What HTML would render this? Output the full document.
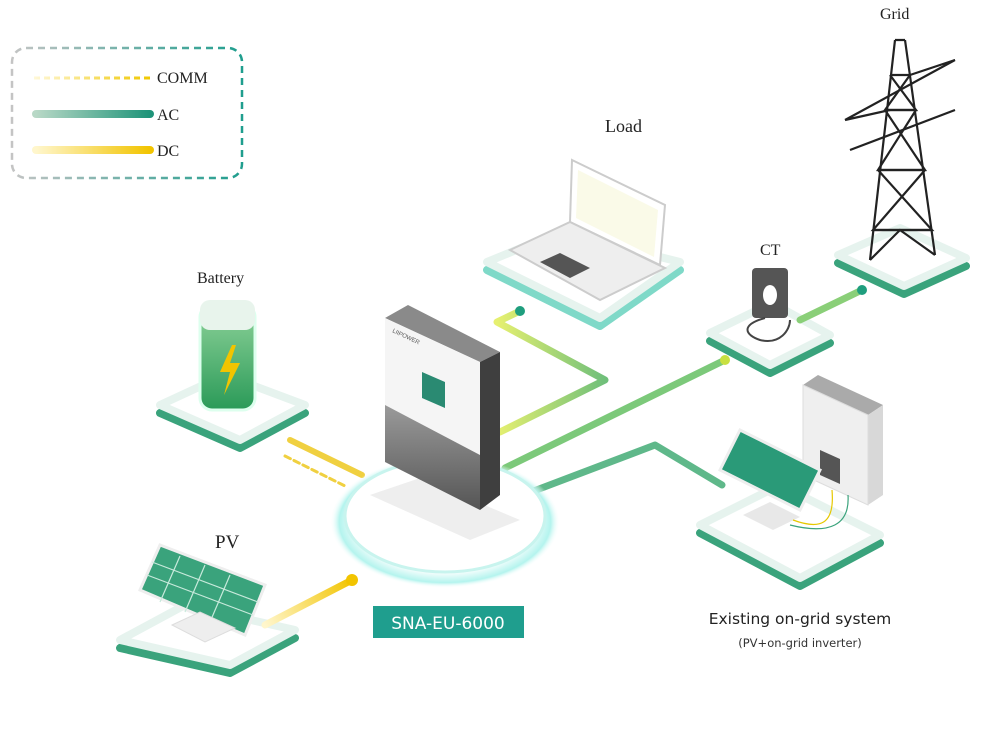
<!DOCTYPE html>
<html><head><meta charset="utf-8"><style>
html,body{margin:0;padding:0;background:#fff;}
svg{display:block;}
</style></head><body>
<svg width="994" height="753" viewBox="0 0 994 753" xmlns="http://www.w3.org/2000/svg">
<defs>
<linearGradient id="ac" gradientUnits="userSpaceOnUse" x1="36" y1="0" x2="150" y2="0"><stop offset="0" stop-color="#b8d8c6"/><stop offset="1" stop-color="#1f9479"/></linearGradient>
<linearGradient id="dc" gradientUnits="userSpaceOnUse" x1="36" y1="0" x2="150" y2="0"><stop offset="0" stop-color="#fff6cc"/><stop offset="1" stop-color="#f2c400"/></linearGradient>
<linearGradient id="cm" gradientUnits="userSpaceOnUse" x1="34" y1="0" x2="150" y2="0"><stop offset="0" stop-color="#fff8d8"/><stop offset="1" stop-color="#f0c800"/></linearGradient>
<linearGradient id="pvd" gradientUnits="userSpaceOnUse" x1="265" y1="625" x2="352" y2="580"><stop offset="0" stop-color="#fff6cc"/><stop offset="1" stop-color="#f2c400"/></linearGradient>
<linearGradient id="bd" x1="0" x2="1"><stop offset="0" stop-color="#c4c4c4"/><stop offset="1" stop-color="#1f9e8e"/></linearGradient>
<linearGradient id="inv" x1="0" y1="0" x2="0" y2="1"><stop offset="0" stop-color="#9a9a9a"/><stop offset="1" stop-color="#555"/></linearGradient>
<linearGradient id="bat" x1="0" y1="0" x2="0" y2="1"><stop offset="0" stop-color="#8fd39a"/><stop offset="1" stop-color="#2a9a58"/></linearGradient>
<linearGradient id="ln" gradientUnits="userSpaceOnUse" x1="497" y1="0" x2="605" y2="0"><stop offset="0" stop-color="#e6f070"/><stop offset="1" stop-color="#6fbf7a"/></linearGradient>
<radialGradient id="glow"><stop offset="0.75" stop-color="#ffffff"/><stop offset="0.92" stop-color="#b4f4ee"/><stop offset="1" stop-color="#ffffff" stop-opacity="0"/></radialGradient>
</defs>

<!-- legend -->
<rect x="12" y="48" width="230" height="130" rx="14" fill="none" stroke="url(#bd)" stroke-width="2.5" stroke-dasharray="7 5"/>
<line x1="34" y1="78" x2="150" y2="78" stroke="url(#cm)" stroke-width="3" stroke-dasharray="6 4"/>
<line x1="36" y1="114" x2="150" y2="114" stroke="url(#ac)" stroke-width="8" stroke-linecap="round"/>
<line x1="36" y1="150" x2="150" y2="150" stroke="url(#dc)" stroke-width="8" stroke-linecap="round"/>
<g font-family="Liberation Serif, serif" font-size="16" fill="#222">
<text x="157" y="83">COMM</text><text x="157" y="120">AC</text><text x="157" y="156">DC</text>
<text x="880" y="19">Grid</text><text x="605" y="132" font-size="18">Load</text>
<text x="760" y="255">CT</text><text x="197" y="283">Battery</text>
<text x="215" y="548" font-size="19">PV</text>
</g>

<!-- platforms -->
<g stroke-linejoin="round">
<polygon points="838,263 900,236 966,266 904,294" fill="#3aa37c" stroke="#3aa37c" stroke-width="8"/>
<polygon points="838,255 900,228 966,258 904,286" fill="#fff" stroke="#e6f3ee" stroke-width="8"/>
<polygon points="710,341 772,311 830,343 770,373" fill="#3aa37c" stroke="#3aa37c" stroke-width="8"/>
<polygon points="710,333 772,303 830,335 770,365" fill="#fff" stroke="#e6f3ee" stroke-width="8"/>
<polygon points="487,270 560,240 680,270 600,326" fill="#7fd9c8" stroke="#7fd9c8" stroke-width="8"/>
<polygon points="487,262 560,232 680,262 600,318" fill="#fff" stroke="#e6f3ee" stroke-width="8"/>
<polygon points="160,413 225,383 305,413 240,448" fill="#3aa37c" stroke="#3aa37c" stroke-width="8"/>
<polygon points="160,405 225,375 305,405 240,440" fill="#fff" stroke="#e6f3ee" stroke-width="8"/>
<polygon points="120,648 185,613 295,638 230,673" fill="#3aa37c" stroke="#3aa37c" stroke-width="8"/>
<polygon points="120,640 185,605 295,630 230,665" fill="#fff" stroke="#e6f3ee" stroke-width="8"/>
<polygon points="700,533 780,493 880,543 800,586" fill="#3aa37c" stroke="#3aa37c" stroke-width="8"/>
<polygon points="700,525 780,485 880,535 800,578" fill="#fff" stroke="#e6f3ee" stroke-width="8"/>
</g>

<!-- connectors -->
<g fill="none" stroke-linecap="round" stroke-linejoin="round">
<polyline points="520,311 497,322 605,380 500,432" stroke="url(#ln)" stroke-width="7"/>
<line x1="725" y1="360" x2="505" y2="468" stroke="#7cc97a" stroke-width="7"/>
<line x1="862" y1="290" x2="800" y2="320" stroke="#8acf78" stroke-width="7"/>
<polyline points="510,500 655,445 722,485" stroke="#5fb88a" stroke-width="7"/>
<line x1="290" y1="440" x2="362" y2="475" stroke="#f0d040" stroke-width="6"/>
<line x1="285" y1="456" x2="345" y2="486" stroke="#f0d040" stroke-width="3" stroke-dasharray="6 4"/>
<line x1="352" y1="580" x2="265" y2="625" stroke="url(#pvd)" stroke-width="7"/>
</g>
<circle cx="520" cy="311" r="5" fill="#1f9e7e"/>
<circle cx="725" cy="360" r="5" fill="#c8e040"/>
<circle cx="862" cy="290" r="5" fill="#1f9e7e"/>
<circle cx="352" cy="580" r="6" fill="#f2c400"/>

<!-- inverter base glow -->
<ellipse cx="445" cy="522" rx="115" ry="66" fill="url(#glow)"/>
<ellipse cx="445" cy="516" rx="100" ry="56" fill="#fff" stroke="#c8f4ee" stroke-width="3"/>
<polygon points="370,495 470,540 520,520 420,478" fill="#eee"/>
<!-- inverter -->
<polygon points="385,318 408,305 500,352 480,362" fill="#8a8a8a"/>
<polygon points="480,362 500,352 500,495 480,510" fill="#3f3f3f"/>
<polygon points="385,318 480,362 480,455 385,405" fill="#f5f5f5"/>
<polygon points="385,405 480,455 480,510 385,462" fill="url(#inv)"/>
<polygon points="422,372 445,382 445,408 422,398" fill="#2a8a72"/>
<text x="392" y="332" font-family="Liberation Sans, sans-serif" font-size="6" fill="#555" transform="rotate(25 392 332)">LIIPOWER</text>

<rect x="373" y="606" width="151" height="32" fill="#1f9e8e"/>
<text x="448" y="629" font-family="DejaVu Sans, sans-serif" font-size="17" fill="#fff" text-anchor="middle">SNA-EU-6000</text>

<!-- battery -->
<rect x="200" y="305" width="55" height="105" rx="12" fill="url(#bat)" stroke="#dfe" stroke-width="3"/>
<rect x="200" y="300" width="55" height="30" rx="10" fill="#e8f4ec"/>
<polygon points="232,345 220,372 230,372 224,395 240,363 230,363 236,345" fill="#f2c400"/>

<!-- laptop -->
<polygon points="572,160 665,205 660,265 570,222" fill="#fff" stroke="#ccc" stroke-width="2"/>
<polygon points="578,170 658,210 654,257 576,218" fill="#fafae8"/>
<polygon points="510,250 570,222 665,268 600,300" fill="#eee" stroke="#ccc" stroke-width="2"/>
<polygon points="540,262 560,253 590,268 570,278" fill="#555"/>

<!-- CT -->
<rect x="752" y="268" width="36" height="50" rx="4" fill="#555"/>
<ellipse cx="770" cy="295" rx="7" ry="10" fill="#fff"/>
<path d="M765 318 C740 325 745 335 760 340 C780 345 790 330 790 320" fill="none" stroke="#444" stroke-width="2"/>

<!-- grid tower -->
<g stroke="#222" stroke-width="2.2" fill="none">
<path d="M895 40 L870 260 M905 40 L935 255 M895 40 L905 40"/>
<path d="M890 75 L910 75 M885 110 L916 110 M878 170 L925 170 M873 230 L932 230"/>
<path d="M890 75 L916 110 L885 110 L910 75 M885 110 L925 170 L878 170 L916 110 M878 170 L932 230 L873 230 L925 170"/>
<path d="M845 120 L955 60 M845 120 L890 110 M955 60 L910 75 M850 150 L955 110"/>
<path d="M870 260 L900 230 L935 255"/>
</g>

<!-- PV -->
<polygon points="140,590 160,545 265,585 245,635" fill="#3aa37c" stroke="#eee" stroke-width="3"/>
<g stroke="#c8eadc" stroke-width="1.2">
<line x1="147" y1="575" x2="253" y2="615"/><line x1="152" y1="562" x2="258" y2="602"/>
<line x1="180" y1="556" x2="160" y2="602"/><line x1="205" y1="565" x2="185" y2="612"/><line x1="230" y1="575" x2="210" y2="622"/>
</g>
<polygon points="172,625 200,612 235,628 205,642" fill="#eee" stroke="#ddd"/>

<!-- existing on-grid -->
<polygon points="803,385 818,375 883,405 868,415" fill="#aaa"/>
<polygon points="868,415 883,405 883,495 868,505" fill="#d8d8d8"/>
<polygon points="803,385 868,415 868,505 803,475" fill="#efefef" stroke="#ddd"/>
<polygon points="820,450 840,459 840,484 820,475" fill="#555"/>
<polygon points="720,470 740,430 820,470 800,510" fill="#2a9a78" stroke="#eee" stroke-width="3"/>
<polygon points="743,515 770,502 800,517 773,530" fill="#e8e8e8"/>
<path d="M793 520 C820 530 835 525 832 490" fill="none" stroke="#e6c800" stroke-width="1.2"/>
<path d="M790 525 C830 535 850 525 848 495" fill="none" stroke="#3aa37c" stroke-width="1.2"/>

<text x="800" y="624" font-family="DejaVu Sans, sans-serif" font-size="15.5" fill="#222" text-anchor="middle">Existing on-grid system</text>
<text x="800" y="647" font-family="DejaVu Sans, sans-serif" font-size="11.5" fill="#333" text-anchor="middle">(PV+on-grid inverter)</text>
</svg>
</body></html>
